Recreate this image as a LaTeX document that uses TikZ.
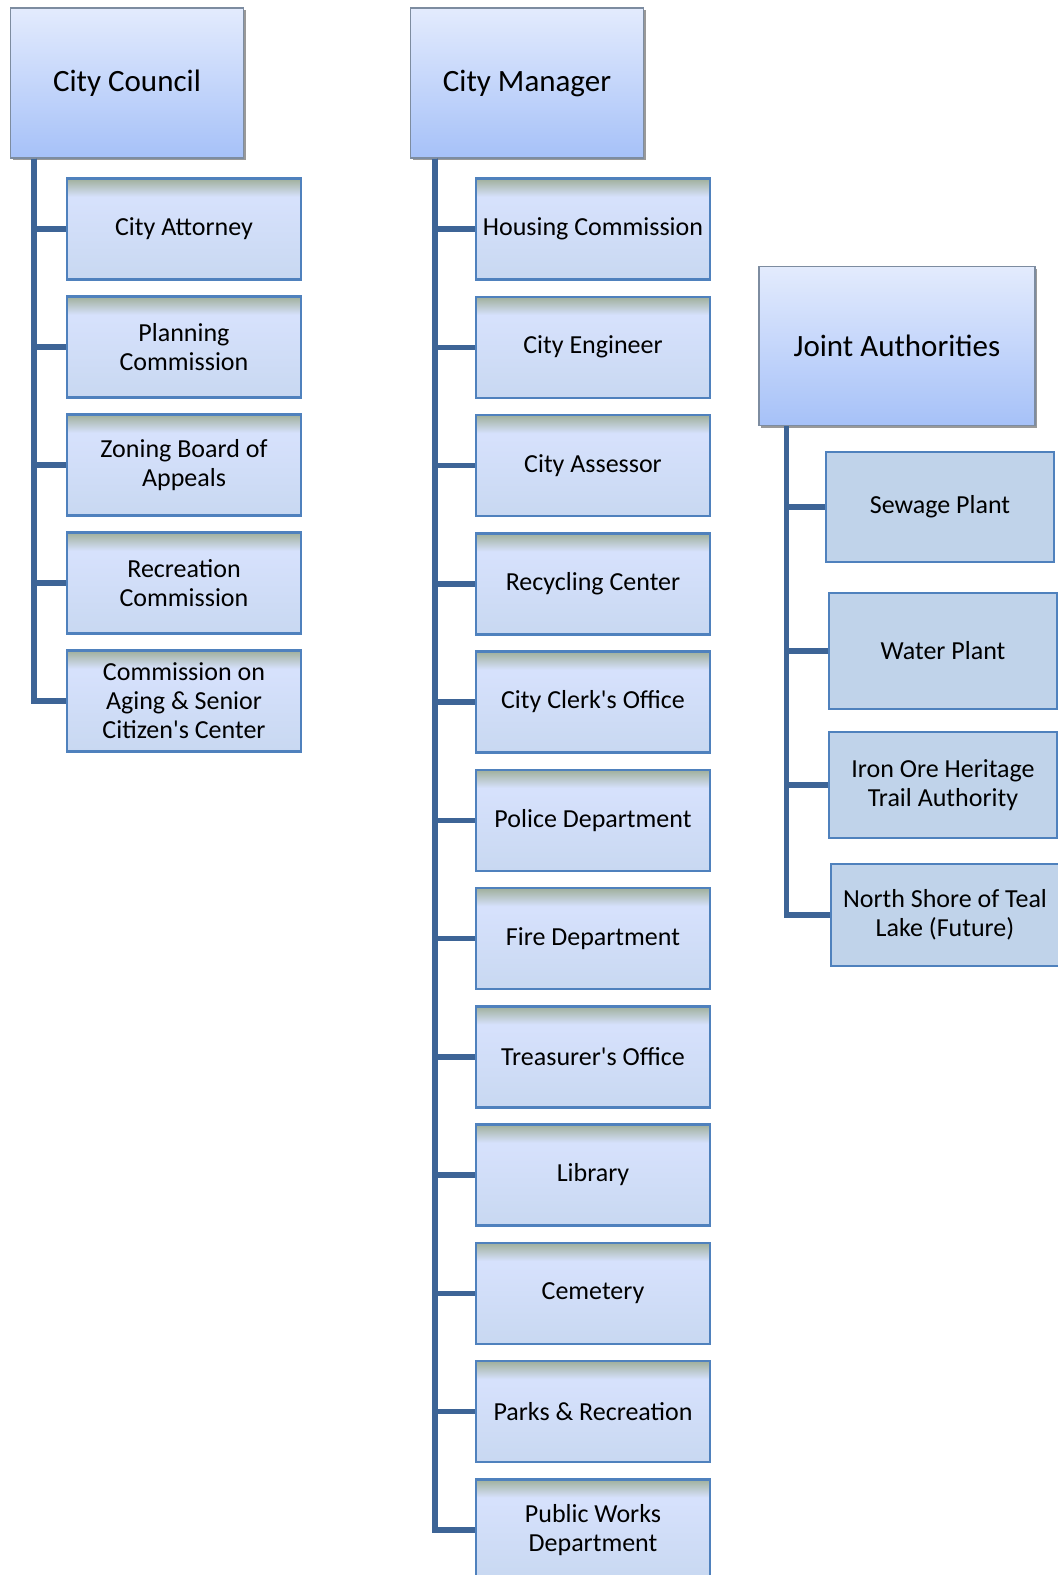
\documentclass[tikz,border=0pt]{standalone}
\usepackage{fontspec}
\setmainfont{Carlito}
\usetikzlibrary{shadows}
\definecolor{headtop}{HTML}{E3EBFD}
\definecolor{headbot}{HTML}{A6C1F8}
\definecolor{headline}{HTML}{7D8CA0}
\definecolor{subtop}{HTML}{D6E1FC}
\definecolor{subbot}{HTML}{C8D8F1}
\definecolor{stripc}{HTML}{9FAF9B}
\definecolor{boxline}{HTML}{4F81BD}
\definecolor{jointfill}{HTML}{C0D3EA}
\definecolor{trunkc}{HTML}{3D6496}
\pgfdeclareverticalshading{subshade}{100bp}{color(0bp)=(subbot); color(25bp)=(subbot);
  color(64bp)=(subtop); color(66bp)=(subtop); color(75bp)=(stripc); color(100bp)=(stripc)}
\begin{document}
\begin{tikzpicture}[x=1pt,y=-1pt,
    head/.style={draw=headline, line width=1.2pt, top color=headtop, bottom color=headbot,
      minimum width=233pt, minimum height=150pt, inner sep=0pt,
      font=\fontsize{31}{34}\selectfont,
      general shadow={fill=black!40, shadow xshift=2pt, shadow yshift=-2pt}},
    sub/.style={draw=boxline, line width=2.5pt, shading=subshade,
      minimum width=234pt, minimum height=101pt, inner sep=0pt, align=center,
      font=\fontsize{26}{29}\selectfont},
    joint/.style={draw=boxline, line width=2.5pt, fill=jointfill,
      minimum width=228pt, inner sep=0pt, align=center,
      font=\fontsize{26}{29}\selectfont},
    trunk/.style={draw=trunkc, line width=5.5pt}]
  \useasboundingbox (0,0) rectangle (1058,1575);
  % heads
  \node[head] (council) at (127,83) {City Council};
  \node[head] (manager) at (527,83) {City Manager};
  \node[head, minimum width=276pt, minimum height=159pt] (joint) at (897,346) {Joint Authorities};
  % council column
  \foreach \nm/\txt [count=\i from 0] in {attorney/City Attorney, planning/{Planning\\Commission},
      zoning/{Zoning Board of\\Appeals}, recreation/{Recreation\\Commission},
      aging/{Commission on\\Aging \& Senior\\Citizen\textquotesingle s Center}}
    \node[sub] (\nm) at (184,{229+118*\i}) {\txt};
  \coordinate (cctrunk) at ([xshift=24pt]council.south west);
  \foreach \nm in {attorney,planning,zoning,recreation,aging}
    \draw[trunk] (cctrunk) |- (\nm.west);
  % manager column
  \foreach \nm/\txt [count=\i from 0] in {housing/Housing Commission, engineer/City Engineer,
      assessor/City Assessor, recycling/Recycling Center, clerk/City Clerk\textquotesingle s Office,
      police/Police Department, fire/Fire Department, treasurer/Treasurer\textquotesingle s Office,
      library/Library, cemetery/Cemetery, parks/Parks \& Recreation, works/{Public Works\\Department}}
    \node[sub] (\nm) at (593,{229+118.25*\i}) {\txt};
  \coordinate (cmtrunk) at ([xshift=25pt]manager.south west);
  \foreach \nm in {housing,engineer,assessor,recycling,clerk,police,fire,treasurer,library,cemetery,parks,works}
    \draw[trunk] (cmtrunk) |- (\nm.west);
  % joint authorities
  \node[joint, minimum height=110pt] (sewage) at (940,507) {Sewage Plant};
  \node[joint, minimum height=116pt] (water) at (943,651) {Water Plant};
  \node[joint, minimum height=106pt] (ironore) at (943,785) {Iron Ore Heritage\\Trail Authority};
  \node[joint, minimum height=102pt] (teal) at (945,915) {North Shore of Teal\\Lake (Future)};
  \coordinate (jatrunk) at ([xshift=28pt]joint.south west);
  \foreach \nm in {sewage,water,ironore,teal}
    \draw[trunk] (jatrunk) |- (\nm.west);
\end{tikzpicture}
\end{document}
